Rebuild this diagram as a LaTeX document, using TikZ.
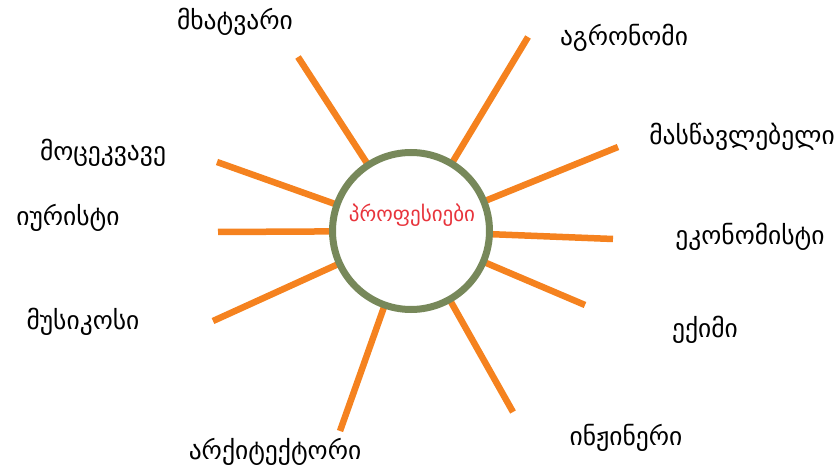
\documentclass[tikz,border=0pt]{standalone}
\usepackage{fontspec}
\newfontfamily\geo{DejaVu Sans}
\definecolor{ray}{HTML}{F5821F}
\definecolor{ring}{HTML}{77885A}
\definecolor{hub}{HTML}{E8343C}
\tikzset{
  rayline/.style={draw=ray, line width=6.5pt},
  label/.style={font=\geo\fontsize{25.5}{28}\selectfont, text=black, inner sep=0pt},
}
\begin{document}
\begin{tikzpicture}[x=1pt,y=-1pt]
\useasboundingbox (0,0) rectangle (840,470);
\coordinate (p1) at (298,57);
\coordinate (p2) at (528,37);
\coordinate (p3) at (618,147);
\coordinate (p4) at (613,239);
\coordinate (p5) at (585,305);
\coordinate (p6) at (513,412);
\coordinate (p7) at (340,431);
\coordinate (p8) at (213,321);
\coordinate (p9) at (218,232);
\coordinate (p10) at (217,162);
\coordinate (c) at (411,231);
\foreach \i in {1,...,10} \draw[rayline] (p\i) -- (c);
\node[circle, draw=ring, line width=7pt, fill=white, minimum size=157pt, inner sep=0pt] (hubnode) at (c) {};
\node[font=\geo\fontsize{21}{24}\selectfont, text=hub, inner sep=0pt] (t) at (412,215) {პროფესიები};
\node[label] (l1) at (235,22) {მხატვარი};
\node[label] (l2) at (624,38) {აგრონომი};
\node[label] (l3) at (742,137) {მასწავლებელი};
\node[label] (l10) at (103,153) {მოცეკვავე};
\node[label] (l9) at (68,218) {იურისტი};
\node[label] (l4) at (750,237) {ეკონომისტი};
\node[label] (l8) at (83,322) {მუსიკოსი};
\node[label] (l5) at (705,330) {ექიმი};
\node[label] (l6) at (626,438) {ინჟინერი};
\node[label] (l7) at (275,452) {არქიტექტორი};
\end{tikzpicture}
\end{document}
